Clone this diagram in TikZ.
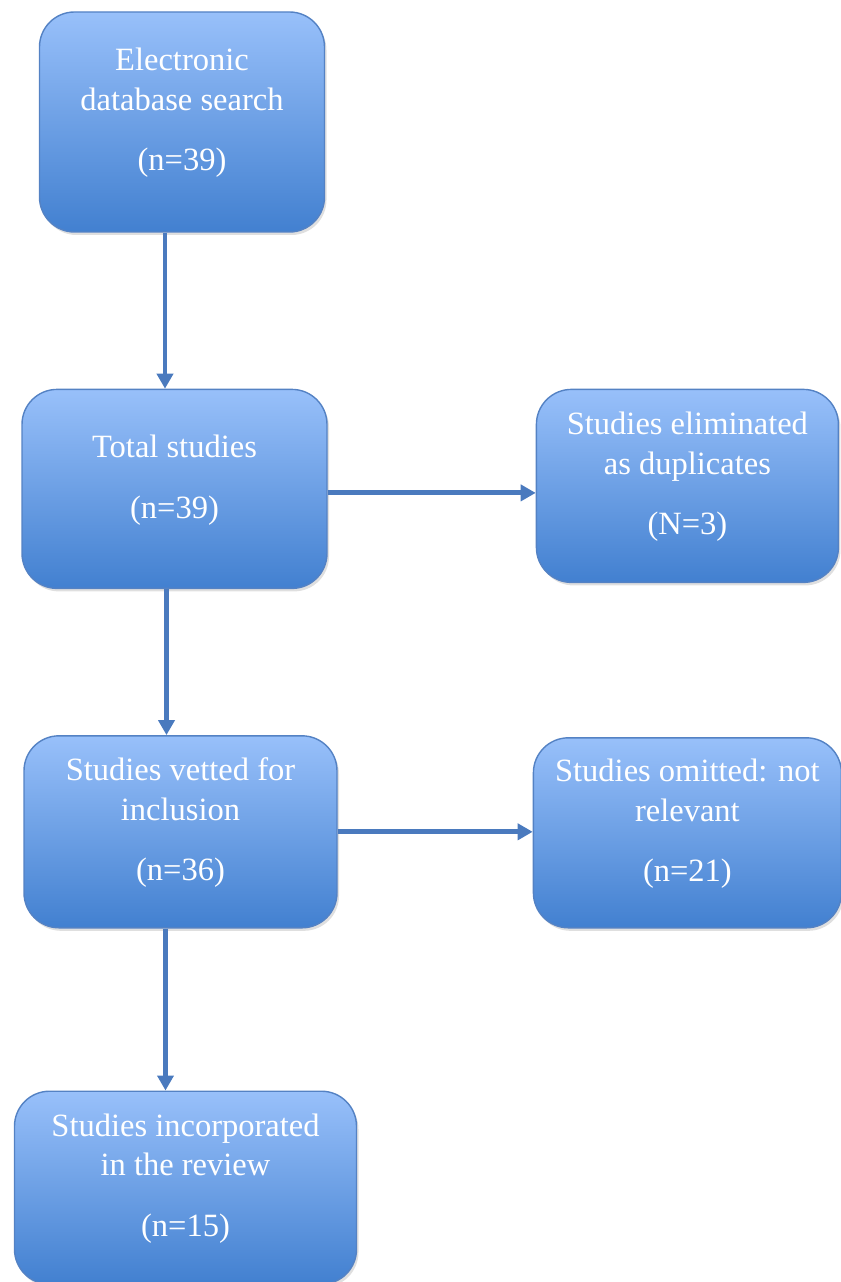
\documentclass[tikz,border=0pt]{standalone}
\usepackage{fontspec}
\setmainfont{Liberation Serif}
\usetikzlibrary{arrows.meta, positioning, calc, shadows}
\definecolor{boxtop}{RGB}{152,192,250}
\definecolor{boxbot}{RGB}{66,128,208}
\definecolor{boxline}{RGB}{84,130,196}
\definecolor{arrowblue}{RGB}{74,122,190}

\begin{document}
\begin{tikzpicture}[node distance=3cm, auto,
        stage/.style={rectangle, draw=boxline, line width=0.8pt, top color=boxtop, bottom color=boxbot,
            rounded corners=0.7cm, text=white, align=center, inner sep=0pt, text depth=0.5cm,
            font=\fontsize{18.5}{22.5}\selectfont,
            drop shadow={shadow xshift=0.04cm, shadow yshift=-0.06cm, opacity=0.25}},
        flow/.style={-{Triangle[length=0.3cm, width=0.32cm]}, line width=2.8pt, draw=arrowblue}
    ]
        \useasboundingbox (0,0) rectangle (16.8,-25.64);

        % Nodes
        \node [stage, minimum width=5.7cm, minimum height=4.4cm] (search) at (3.64,-2.44)
            {Electronic\\database search\\[12pt](n=39)};

        \node [stage, minimum width=6.1cm, minimum height=3.98cm, below=3.12cm of search, xshift=-0.15cm] (total)
            {Total studies\\[12pt](n=39)};
        \node [stage, minimum width=6.04cm, minimum height=3.86cm, right=4.16cm of total, yshift=0.06cm] (duplicates)
            {Studies eliminated\\as duplicates\\[12pt](N=3)};

        \node [stage, minimum width=6.26cm, minimum height=3.84cm, below=2.92cm of total, xshift=0.12cm] (vetted)
            {Studies vetted for\\inclusion\\[12pt](n=36)};
        \node [stage, minimum width=6.16cm, minimum height=3.8cm, right=3.9cm of vetted, yshift=-0.02cm] (omitted)
            {Studies omitted: not\\relevant\\[12pt](n=21)};

        \node [stage, minimum width=6.84cm, minimum height=3.86cm, below=3.24cm of vetted, xshift=0.1cm] (included)
            {Studies incorporated\\in the review\\[12pt](n=15)};

        % Arrows
        \draw [flow] ([xshift=-0.34cm]search.south) -- ([xshift=-0.34cm]search.south |- total.north);
        \draw [flow] ([xshift=-0.16cm]total.south) -- ([xshift=-0.16cm]total.south |- vetted.north);
        \draw [flow] ([xshift=-0.3cm]vetted.south) -- ([xshift=-0.3cm]vetted.south |- included.north);
        \draw [flow] ([yshift=-0.08cm]total.east) -- ([yshift=-0.08cm]total.east -| duplicates.west);
        \draw [flow] (vetted.east) -- (vetted.east -| omitted.west);
    \end{tikzpicture}
\end{document}
